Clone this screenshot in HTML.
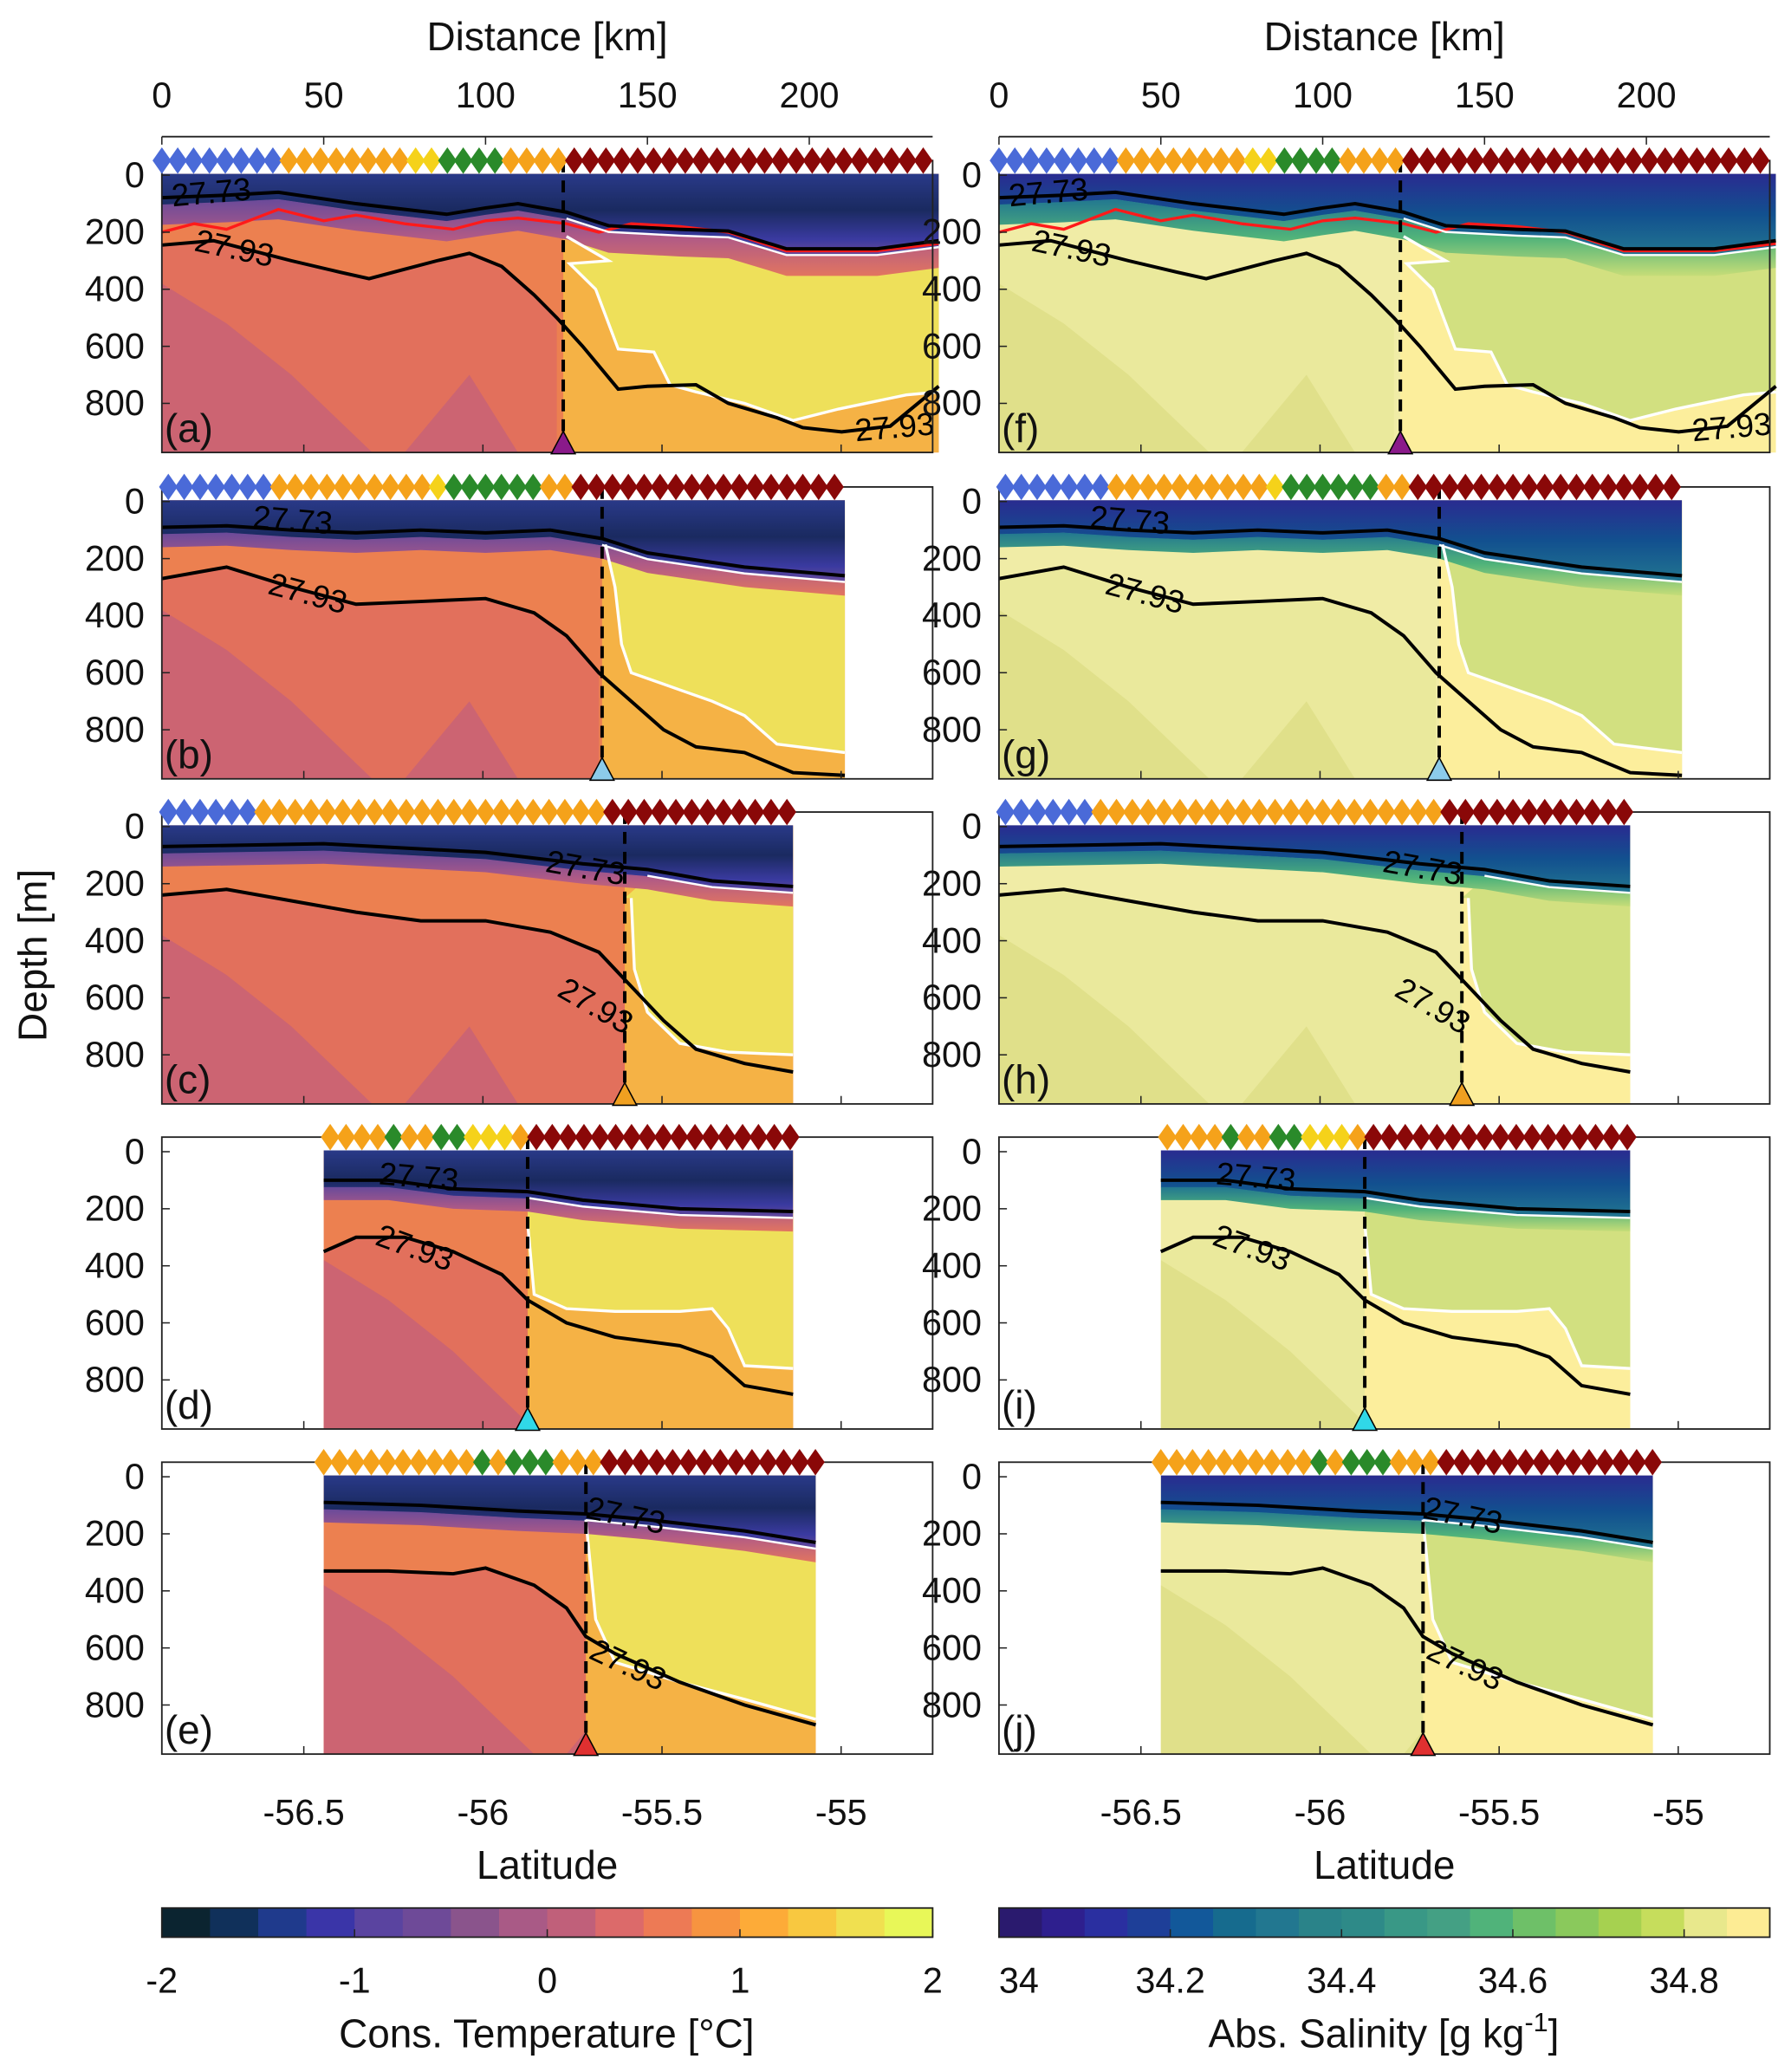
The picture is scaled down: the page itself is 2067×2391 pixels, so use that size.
<!DOCTYPE html>
<html><head><meta charset="utf-8"><style>
html,body{margin:0;padding:0;background:#fff}
svg{display:block;font-family:"Liberation Sans",sans-serif}
</style></head><body>
<svg id="fig" width="2067" height="2391" viewBox="0 0 1350 1561.6" xmlns="http://www.w3.org/2000/svg"></svg>
<script>
// ---- data arrays (km, depth m) ----
const upperA=[[0,79],[20,70],[36,60],[60,100],[88,137],[100,115],[110,100],[125,130],[138,177],[160,190],[175,196],[193,258],[221,258],[240,230]];
const lowerA=[[0,245],[16,230],[40,300],[55,340],[64,363],[75,330],[85,300],[95,274],[105,320],[115,420],[122,500],[130,600],[141,750],[150,740],[165,735],[175,800],[190,850],[198,885],[210,900],[225,880],[240,740]];
const whiteA=[[125,215],[138,300],[126,310],[134,400],[141,610],[152,620],[157,735],[165,760],[180,800],[195,860],[209,820],[230,770],[240,760]];
const redA=[[0,200],[10,170],[20,190],[36,120],[50,160],[60,140],[75,170],[90,190],[100,160],[110,150],[125,170],[135,200],[145,170],[160,180],[175,200],[193,265],[221,265],[240,240]];
const upperB=[[0,90],[20,85],[40,100],[60,110],[80,100],[100,110],[120,100],[136,130],[150,180],[180,230],[211,260]];
const lowerB=[[0,270],[20,230],[40,300],[60,360],[80,350],[100,340],[115,390],[125,470],[135,600],[145,700],[155,800],[165,860],[180,880],[195,950],[211,960]];
const whiteB=[[137,150],[140,300],[142,500],[145,600],[160,660],[170,700],[180,750],[190,850],[211,880]];
const upperC=[[0,70],[50,60],[100,90],[130,130],[150,150],[170,190],[195,210]];
const lowerC=[[0,240],[20,220],[40,260],[60,300],[80,330],[100,330],[120,370],[135,440],[145,560],[155,680],[165,780],[180,830],[195,860]];
const whiteC=[[145,250],[146,500],[150,650],[160,760],[175,790],[195,800]];
const upperD=[[50,100],[70,100],[90,130],[113,140],[130,170],[160,200],[195,210]];
const lowerD=[[50,350],[60,300],[75,300],[90,350],[105,430],[113,520],[125,600],[140,650],[160,680],[170,720],[180,820],[195,850]];
const whiteD=[[113,250],[115,500],[125,550],[140,560],[160,560],[170,550],[175,620],[180,750],[195,760]];
const upperE=[[50,90],[80,100],[110,120],[131,130],[150,150],[180,190],[202,230]];
const lowerE=[[50,330],[70,330],[90,340],[100,320],[115,380],[125,460],[131,560],[140,620],[160,720],[180,800],[202,870]];
const whiteE=[[131,150],[134,500],[140,650],[160,720],[180,780],[202,850]];
const frontKm=[124,136,143,113,131];
const extentStart=[0,0,0,50,50];
const extentEnd=[240,211,195,195,202];
const stationStart=[0,2,2,52,50];
const stationCodes=["BBBBBBBBOOOOOOOOYYGGGGOOOORRRRRRRRRRRRRRRRRRRRRRR","BBBBBBBOOOOOOOOOOYGGGGGGOORRRRRRRRRRRRRRRRR","BBBBBBOOOOOOOOOOOOOOOOOOOOOORRRRRRRRRRRR","OOOOGOOGGYYYORRRRRRRRRRRRRRRRR","OOOOOOOOOOGOGGGOOORRRRRRRRRRRRRR"];
const triColors=["#8a1a8a","#8ccbea","#f0a020","#30d8e8","#e03030"];
const tempColors=["#0b2430","#10305a","#1f3a8c","#3a35a8","#5a44a0","#6e4a98","#8a548c","#a95a86","#c0607a","#dc6a6a","#ed7a55","#f79440","#fdab38","#f8c840","#f0e050","#e8f758"];
const salColors=["#2a1a6e","#2e1f8e","#2a2fa0","#1e3f98","#12589a","#166b8e","#227790","#2a8389","#2e8a88","#399886","#44a084","#50b37a","#6ec068","#8ac95c","#a6d150","#c6dd5c","#e8e88c","#fdec94"];
const distTicks=[0,50,100,150,200];
const depthTicks=[0,200,400,600,800];
const latTicks=[-56.5,-56,-55.5,-55];
const tempTicks=[-2,-1,0,1,2];
const salTicks=[34,34.2,34.4,34.6,34.8];

const uppers=[upperA,upperB,upperC,upperD,upperE];
const lowers=[lowerA,lowerB,lowerC,lowerD,lowerE];
const whites=[whiteA,whiteB,whiteC,whiteD,whiteE];
const letters=[["(a)","(b)","(c)","(d)","(e)"],["(f)","(g)","(h)","(i)","(j)"]];

const NS="http://www.w3.org/2000/svg";
const svg=document.getElementById('fig');
function mk(tag,attrs,parent){const e=document.createElementNS(NS,tag);for(const k in attrs)e.setAttribute(k,attrs[k]);(parent||svg).appendChild(e);return e;}
const colX0=[122,753];
const W=581;
const zeroY=[132,378,623,868,1113];
function kmX(c,km){return colX0[c]+km*2.44;}
function dY(r,d){return zeroY[r]+d*0.215;}
function latX(c,lat){return colX0[c]+107+(lat+56.5)*270;}
function pts(c,r,arr){return arr.map(p=>kmX(c,p[0]).toFixed(1)+','+dY(r,p[1]).toFixed(1)).join(' ');}
function txt(x,y,s,size,anchor,parent){const t=mk('text',{x:x,y:y,'font-size':size,'text-anchor':anchor||'middle',fill:'#111'},parent);t.textContent=s;return t;}

const defs=mk('defs',{});
function grad(id,stops){const g=mk('linearGradient',{id:id,x1:0,y1:0,x2:0,y2:1},defs);stops.forEach(s=>mk('stop',{offset:s[0],'stop-color':s[1]},g));}
grad('topT',[[0,'#2a3a8a'],[0.45,'#1a2a60'],[0.8,'#3a3aa0'],[1,'#6a4a9a']]);
grad('transT',[[0,'#6a4a9a'],[0.5,'#b05a86'],[1,'#e27560']]);
grad('topS',[[0,'#2a2a90'],[0.5,'#12508f'],[1,'#227790']]);
grad('transS',[[0,'#227790'],[0.5,'#50b37a'],[1,'#c6dd78']]);

const pal=[{bg:'#ec8050',deep:'#e2705c',deep2:'#cc6472',rightLow:'#f5b245',rightUp:'#eee05a',top:'url(#topT)',trans:'url(#transT)'},
           {bg:'#f0eca6',deep:'#eae99c',deep2:'#e0e08a',rightLow:'#fcee9c',rightUp:'#d2e080',top:'url(#topS)',trans:'url(#transS)'}];

for(let c=0;c<2;c++){
  const P=pal[c];
  const ax=mk('g',{},svg);
  
  
  mk('line',{x1:colX0[c],y1:103,x2:colX0[c]+W,y2:103,stroke:'#222','stroke-width':1.2},ax);
  distTicks.forEach(v=>{const x=kmX(c,v);mk('line',{x1:x,y1:103,x2:x,y2:109,stroke:'#222'},ax);txt(x,81,String(v),27,'middle',ax);});
  const dt=txt(colX0[c]+W/2,38,'Distance [km]',30,'middle',svg);
  
  

  for(let r=0;r<5;r++){
    const g=mk('g',{},svg);
    
    
    const top=zeroY[r]-11, bot=zeroY[r]+209;
    const k0=extentStart[r],k1=extentEnd[r],fk=frontKm[r];
    const cid='clip'+c+r;
    const cp=mk('clipPath',{id:cid},defs);
    mk('rect',{x:kmX(c,k0),y:zeroY[r]-1,width:(k1-k0)*2.44,height:bot-zeroY[r]+1},cp);
    const f=mk('g',{'clip-path':'url(#'+cid+')'},g);
    mk('rect',{x:0,y:0,width:1350,height:1600,fill:P.bg},f);
    const lo=lowers[r].filter(p=>p[0]<=fk+2);
    mk('polygon',{points:pts(c,r,lo)+' '+kmX(c,lo[lo.length-1][0])+','+bot+' '+kmX(c,k0)+','+bot,fill:P.deep},f);
    mk('polygon',{points:kmX(c,k0)+','+dY(r,380)+' '+kmX(c,k0+20)+','+dY(r,520)+' '+kmX(c,k0+40)+','+dY(r,700)+' '+kmX(c,k0+65)+','+bot+' '+kmX(c,k0)+','+bot,fill:P.deep2},f);
    mk('polygon',{points:kmX(c,k0+75)+','+bot+' '+kmX(c,k0+95)+','+dY(r,700)+' '+kmX(c,k0+110)+','+bot,fill:P.deep2},f);
    const up=uppers[r].filter(p=>p[0]>=fk);
    mk('rect',{x:kmX(c,fk),y:zeroY[r],width:(k1-fk)*2.44+2,height:220,fill:P.rightLow},f);
    const wh=whites[r];
    const upPts=up.map(p=>[p[0],p[1]+30]).reverse();
    mk('polygon',{points:pts(c,r,wh)+' '+pts(c,r,upPts)+' '+kmX(c,fk)+','+dY(r,wh[0][1]),fill:P.rightUp},f);
    const uAll=uppers[r];
    const s0=kmX(c,k0),s1=kmX(c,k1);
    mk('polygon',{points:s0+','+(zeroY[r]-2)+' '+s1+','+(zeroY[r]-2)+' '+pts(c,r,uAll.map(p=>[p[0],p[1]+25]).slice().reverse()),fill:P.top},f);
    mk('polygon',{points:pts(c,r,uAll.map(p=>[p[0],p[1]+24]))+' '+pts(c,r,uAll.map(p=>[p[0],p[1]+(r==0?95:70)]).slice().reverse()),fill:P.trans},f);
    if(r==0){const rl=mk('polyline',{points:pts(c,r,redA),fill:'none',stroke:'#ff1a1a','stroke-width':2.2},f);
      }
    const wl=mk('polyline',{points:pts(c,r,wh),fill:'none',stroke:'#fff','stroke-width':2.2},f);
    
    mk('polyline',{points:pts(c,r,up.map(p=>[p[0],p[1]+22])),fill:'none',stroke:'#fff','stroke-width':1.6},f);
    const u=mk('polyline',{points:pts(c,r,uppers[r]),fill:'none',stroke:'#000','stroke-width':2.6},g);
    
    const l=mk('polyline',{points:pts(c,r,lowers[r]),fill:'none',stroke:'#000','stroke-width':2.6},g);
    
    const lab=[[[160,153,-5],[175,195,12],[675,330,-5]],[[220,400,5],[230,455,15]],[[440,662,10],[445,765,30]],[[315,895,5],[310,948,20]],[[470,1150,12],[470,1262,25]]][r];
    lab.forEach((L,i)=>{const x=L[0]+(c?631:0);const t=txt(x,L[1],i==0?'27.73':'27.93',24,'middle',g);t.setAttribute('transform','rotate('+L[2]+' '+x+' '+L[1]+')');t.setAttribute('fill','#000');});
    mk('rect',{x:colX0[c],y:top,width:W,height:bot-top,fill:'none',stroke:'#222','stroke-width':1.2},g);
    depthTicks.forEach(v=>{const y=dY(r,v);mk('line',{x1:colX0[c],y1:y,x2:colX0[c]+6,y2:y,stroke:'#222'},g);txt(colX0[c]-13,y+9,String(v),27,'end',g);});
    latTicks.forEach(v=>{const x=latX(c,v);mk('line',{x1:x,y1:bot,x2:x,y2:bot-6,stroke:'#222'},g);});
    const fx=kmX(c,fk);
    const fl=mk('line',{x1:fx,y1:top,x2:fx,y2:bot-8,stroke:'#000','stroke-width':2.6,'stroke-dasharray':'9,6'},g);
    
    const tri=mk('polygon',{points:(fx-9)+','+(bot+1)+' '+(fx+9)+','+(bot+1)+' '+fx+','+(bot-16),fill:triColors[r],stroke:'#000','stroke-width':1},g);
    
    const lt=txt(colX0[c]+2,bot-8,letters[c][r],30,'start',g);
    
    const code=stationCodes[r];const cmap={B:'#4a6ad8',O:'#f5a21a',Y:'#f5d21a',G:'#2a8a2a',R:'#8a0808'};
    for(let i=0;i<code.length;i++){
      const x=kmX(c,stationStart[r]+i*4.9);
      const d=mk('polygon',{points:x+','+(top-10)+' '+(x+7)+','+top+' '+x+','+(top+10)+' '+(x-7)+','+top,fill:cmap[code[i]]},g);
      
      
    }
  }
  latTicks.forEach(v=>{txt(latX(c,v),1375,String(v),27,'middle',svg);});
  const lt=txt(colX0[c]+W/2,1416,'Latitude',30,'middle',svg);
  
  
  const cb=mk('g',{},svg);
  
  
  const cols=c==0?tempColors:salColors;const n=cols.length;
  cols.forEach((col,i)=>mk('rect',{x:colX0[c]+i*W/n,y:1438,width:W/n+0.6,height:22,fill:col},cb));
  mk('rect',{x:colX0[c],y:1438,width:W,height:22,fill:'none',stroke:'#222','stroke-width':1.2},cb);
  if(c==0){tempTicks.forEach(v=>{const x=122+(v+2)/4*W;mk('line',{x1:x,y1:1460,x2:x,y2:1454,stroke:'#222'},cb);txt(x,1502,String(v),27,'middle',cb);});
    const t=txt(412,1543,'Cons. Temperature [°C]',30,'middle',svg);}
  else{salTicks.forEach(v=>{const x=753+(v-34)/0.9*W;mk('line',{x1:x,y1:1460,x2:x,y2:1454,stroke:'#222'},cb);txt(Math.max(x,768),1502,String(v),27,'middle',cb);});
    const t=mk('text',{x:1043,y:1543,'font-size':30,'text-anchor':'middle',fill:'#111'},svg);
    
    t.appendChild(document.createTextNode('Abs. Salinity [g kg'));
    const sp=mk('tspan',{dy:-12,'font-size':20},t);sp.textContent='-1';
    const sp2=mk('tspan',{dy:12},t);sp2.textContent=']';}
}
const yt=txt(0,0,'Depth [m]',30,'middle',svg);
yt.setAttribute('transform','translate(35,720) rotate(-90)');


</script>
</body></html>
